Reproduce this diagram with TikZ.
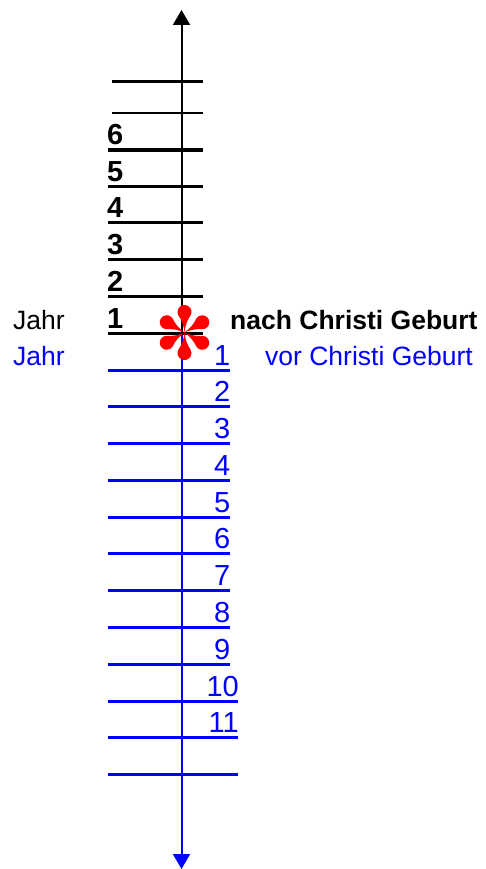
\documentclass[tikz,border=0pt]{standalone}
\usepackage{fontspec}
\setmainfont{Liberation Sans}
\usetikzlibrary{arrows.meta}
\definecolor{tblue}{RGB}{0,0,255}
\definecolor{tred}{RGB}{255,0,0}
\begin{document}
\begin{tikzpicture}[x=1pt,y=-1pt,
  lbl/.style={inner sep=0pt,font=\fontsize{26.5}{30}\selectfont},
  blbl/.style={lbl,font=\fontsize{26.5}{30}\selectfont\bfseries},
  dgt/.style={inner sep=0pt,font=\fontsize{29}{32}\selectfont},
  bdgt/.style={inner sep=0pt,font=\fontsize{29}{32}\selectfont\bfseries},
  tick/.style={line width=3.5pt},
  btick/.style={line width=3pt,tblue},
  axis/.style={line width=2pt}]
\useasboundingbox (0,0) rectangle (485,869);
% axis
\coordinate (top) at (181.5,10);
\coordinate (mid) at (181.5,333);
\coordinate (bot) at (181.5,869);
\draw[axis,-{Triangle[width=17pt,length=15pt]}] (mid) -- (top);
\draw[axis,tblue,-{Triangle[width=17pt,length=15pt]}] (mid) -- (bot);
% black ticks
\draw[line width=3pt] (112,82) -- (203,82);
\draw[line width=2pt] (112,113) -- (203,113);
\foreach \n/\y in {6/150,5/186.7,4/222.3,3/259.3,2/296.7,1/333.3}{
  \draw[tick] (108,\y) -- (203,\y);
  \node[bdgt,anchor=base west] (b\n) at (107,\y-5) {\n};
}
% blue ticks
\foreach \n/\y in {1/370.7,2/406.5,3/443.3,4/480,5/517,6/553.3,7/590,8/627.3,9/664}{
  \draw[btick] (108,\y) -- (229.5,\y);
  \node[dgt,tblue,anchor=base east] (v\n) at (230.5,\y-5) {\n};
}
\foreach \n/\y in {10/701,11/737.5}{
  \draw[btick] (108,\y) -- (238,\y);
  \node[dgt,tblue,anchor=base east] (v\n) at (239,\y-5) {\n};
}
\draw[btick] (108,774) -- (238,774);
% labels
\node[lbl,anchor=base west] (j1) at (13,329) {Jahr};
\node[lbl,tblue,anchor=base west] (j2) at (13,365) {Jahr};
\node[blbl,anchor=base west] (nc) at (230,329) {nach Christi Geburt};
\node[lbl,tblue,anchor=base west] (vc) at (265,365) {vor Christi Geburt};
% red asterisk
\begin{scope}[shift={(184.5,332.5)}]
\foreach \a in {90,270,30,150,210,330}{
  \fill[tred,rotate=\a] (0,0) .. controls (8,0.9) and (13,3.2) .. (17,6.06)
     arc[start angle=120,end angle=-120,radius=7]
     .. controls (13,-3.2) and (8,-0.9) .. (0,0) -- cycle;
}
\end{scope}
\end{tikzpicture}
\end{document}
